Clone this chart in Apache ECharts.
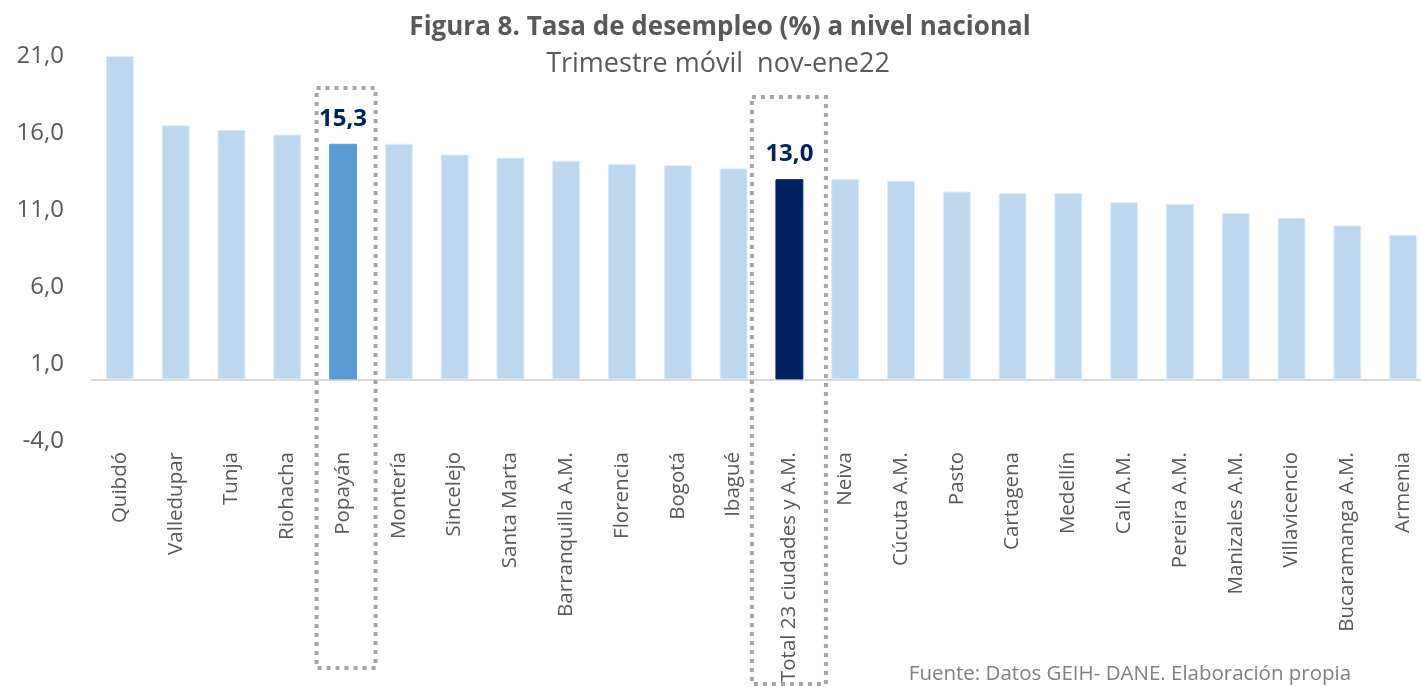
<!DOCTYPE html>
<html>
<head>
<meta charset="utf-8">
<script src="https://cdn.jsdelivr.net/npm/echarts@6/dist/echarts.min.js"></script>
<style>
  html, body { margin: 0; padding: 0; background: #fff; }
  #chart_box { width: 1421px; height: 687px; }
</style>
</head>
<body>
<div id="chart_box"></div>
<script>
// ciudades y tasa de desempleo (%)
var ciudades = ["Quibdó", "Valledupar", "Tunja", "Riohacha", "Popayán", "Montería", "Sincelejo",
  "Santa Marta", "Barranquilla A.M.", "Florencia", "Bogotá", "Ibagué", "Total 23 ciudades y A.M.",
  "Neiva", "Cúcuta A.M.", "Pasto", "Cartagena", "Medellín", "Cali A.M.", "Pereira A.M.",
  "Manizales A.M.", "Villavicencio", "Bucaramanga A.M.", "Armenia"];
var tasas = [21.0, 16.5, 16.2, 15.9, 15.3, 15.3, 14.6, 14.4, 14.2, 14.0, 13.9, 13.7, 13.0,
  13.0, 12.9, 12.2, 12.1, 12.1, 11.5, 11.4, 10.8, 10.5, 10.0, 9.4];
var yTicks = [-4, 1, 6, 11, 16, 21];
var destacadas = ["Popayán", "Total 23 ciudades y A.M."];

var colores = { "Popayán": "#5B9BD5", "Total 23 ciudades y A.M.": "#002060" };
var fmt = function (v) { return v.toFixed(1).replace(".", ","); };

var myChart = echarts.init(document.getElementById("chart_box"));
var font = "'Open Sans', 'Noto Sans', sans-serif";

var option = {
  animation: false,
  title: [
    {
      text: "Figura 8. Tasa de desempleo (%) a nivel nacional",
      left: 720, top: 15, textAlign: "center", padding: 0,
      textStyle: { fontFamily: font, fontSize: 26, fontWeight: "bold", color: "#595959" }
    },
    {
      text: "Trimestre móvil  nov-ene22",
      left: 718, top: 51, textAlign: "center", padding: 0,
      textStyle: { fontFamily: font, fontSize: 27, fontWeight: "normal", color: "#595959" }
    },
    {
      text: "Fuente: Datos GEIH- DANE. Elaboración propia",
      left: 1130, top: 664, textAlign: "center", padding: 0,
      textStyle: { fontFamily: font, fontSize: 20.5, fontWeight: "normal", color: "#808080" }
    }
  ],
  grid: { left: 92, top: 56, width: 1339, height: 385, containLabel: false, outerBoundsMode: "none" },
  xAxis: {
    type: "category",
    data: ciudades,
    axisTick: { show: false },
    axisLine: { lineStyle: { color: "#D9D9D9", width: 2 } },
    axisLabel: {
      interval: 0, rotate: 90, margin: 11,
      fontFamily: font, fontSize: 20.5, color: "#595959"
    }
  },
  yAxis: {
    type: "value",
    min: yTicks[0], max: yTicks[yTicks.length - 1], interval: 5,
    splitLine: { show: false },
    axisLine: { show: false },
    axisTick: { show: false },
    axisLabel: {
      margin: 28, fontFamily: font, fontSize: 24, color: "#595959",
      formatter: fmt
    }
  },
  series: [{
    type: "bar",
    barWidth: "50%",
    data: tasas.map(function (v, i) {
      var c = ciudades[i];
      var item = {
        value: v,
        itemStyle: {
          color: colores[c] || "#BDD7EE",
          borderColor: colores[c] ? colores[c] : "#DDEBF7",
          borderWidth: 1
        }
      };
      if (destacadas.indexOf(c) >= 0) {
        item.label = {
          show: true, position: "top", distance: 13,
          fontFamily: font, fontSize: 24, fontWeight: "bold", color: "#002060",
          formatter: function (p) { return fmt(p.value); }
        };
      }
      return item;
    })
  }]
};
myChart.setOption(option);

// recuadros punteados alrededor de las barras destacadas
var cajas = [
  { cat: "Popayán", dx: 3, half: 29.5, top: 88, bottom: 668 },
  { cat: "Total 23 ciudades y A.M.", dx: -0.5, half: 37, top: 97, bottom: 684 }
];
var graphics = cajas.map(function (b) {
  var cx = myChart.convertToPixel({ xAxisIndex: 0 }, b.cat) + b.dx;
  return {
    type: "rect",
    shape: { x: cx - b.half, y: b.top, width: b.half * 2, height: b.bottom - b.top },
    style: { fill: "none", stroke: "#A6A6A6", lineWidth: 4, lineDash: [4, 5] },
    z: 10
  };
});
myChart.setOption({ graphic: graphics });
</script>
</body>
</html>
